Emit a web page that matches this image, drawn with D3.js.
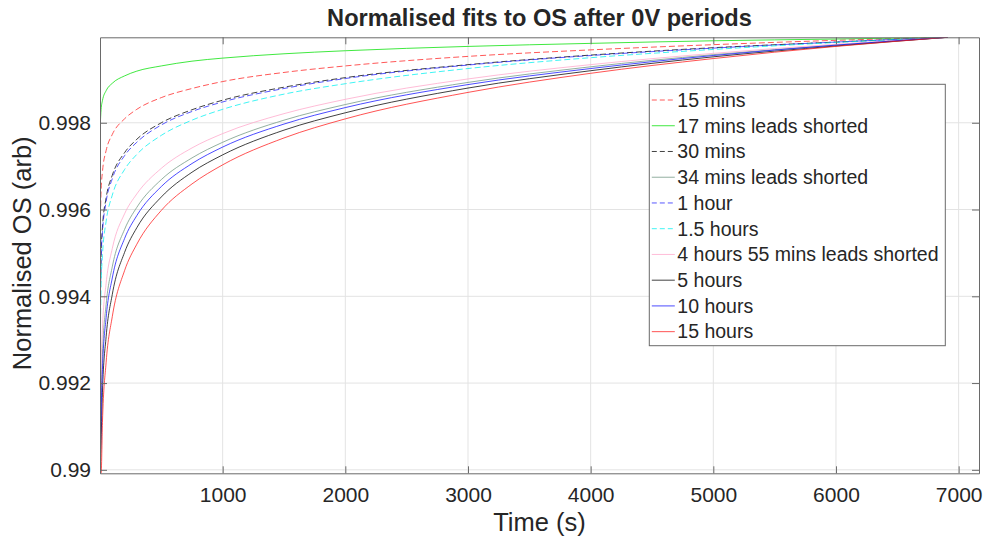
<!DOCTYPE html>
<html>
<head>
<meta charset="utf-8">
<script src="https://cdn.jsdelivr.net/npm/d3@7"></script>
<style>
body { margin: 0; background: #ffffff; }
text { font-family: "Liberation Sans", Arial, sans-serif; fill: #262626; }
</style>
</head>
<body>
<svg id="chart"></svg>
<script>
var canvas_width = 987;
var canvas_height = 542;
var left_edge = 100;
var right_edge = 979;
var top_edge = 37.3;
var bottom_edge = 473.3;

// time samples (s)
let time_s = [2, 9, 20, 50, 100, 200, 300, 500, 750, 1000, 1500, 2000, 3000, 4000, 5000, 6000, 6910];

let os_15_mins      = [0.99565, 0.99645, 0.99687, 0.99736, 0.99773, 0.99809, 0.99831, 0.99858, 0.99879, 0.99895, 0.99916, 0.99931, 0.99953, 0.99968, 0.99980, 0.99990, 0.99997];
let os_17_mins_sh   = [0.99793, 0.99831, 0.99851, 0.99874, 0.99891, 0.99908, 0.99919, 0.99931, 0.99942, 0.99949, 0.99959, 0.99966, 0.99976, 0.99983, 0.99989, 0.99993, 0.99997];
let os_30_mins      = [0.99386, 0.99499, 0.99559, 0.99627, 0.99679, 0.99731, 0.99762, 0.99800, 0.99830, 0.99852, 0.99882, 0.99904, 0.99934, 0.99956, 0.99973, 0.99986, 0.99997];
let os_34_mins_sh   = [0.98990, 0.99167, 0.99266, 0.99381, 0.99468, 0.99554, 0.99605, 0.99669, 0.99719, 0.99755, 0.99806, 0.99842, 0.99893, 0.99929, 0.99957, 0.99979, 0.99997];
let os_1_hour       = [0.99370, 0.99486, 0.99547, 0.99618, 0.99671, 0.99724, 0.99755, 0.99795, 0.99826, 0.99848, 0.99879, 0.99902, 0.99933, 0.99955, 0.99972, 0.99986, 0.99997];
let os_1_5_hours    = [0.99296, 0.99426, 0.99494, 0.99573, 0.99633, 0.99692, 0.99727, 0.99771, 0.99806, 0.99831, 0.99866, 0.99890, 0.99925, 0.99950, 0.99969, 0.99985, 0.99997];
let os_4h55_sh      = [0.99060, 0.99233, 0.99325, 0.99430, 0.99510, 0.99590, 0.99636, 0.99695, 0.99742, 0.99775, 0.99821, 0.99854, 0.99901, 0.99934, 0.99960, 0.99981, 0.99997];
let os_5_hours      = [0.98990, 0.99067, 0.99179, 0.99307, 0.99404, 0.99501, 0.99558, 0.99629, 0.99686, 0.99726, 0.99783, 0.99823, 0.99880, 0.99920, 0.99952, 0.99977, 0.99997];
let os_10_hours     = [0.98990, 0.99127, 0.99231, 0.99351, 0.99442, 0.99533, 0.99586, 0.99653, 0.99706, 0.99744, 0.99797, 0.99835, 0.99888, 0.99925, 0.99955, 0.99979, 0.99997];
let os_15_hours     = [0.98990, 0.98990, 0.99109, 0.99248, 0.99353, 0.99459, 0.99520, 0.99598, 0.99659, 0.99703, 0.99765, 0.99809, 0.99870, 0.99914, 0.99948, 0.99976, 0.99997];

let series_names = ["15 mins", "17 mins leads shorted", "30 mins", "34 mins leads shorted", "1 hour",
    "1.5 hours", "4 hours 55 mins leads shorted", "5 hours", "10 hours", "15 hours"];
let series_values = [os_15_mins, os_17_mins_sh, os_30_mins, os_34_mins_sh, os_1_hour,
    os_1_5_hours, os_4h55_sh, os_5_hours, os_10_hours, os_15_hours];
let colour = ["#ff2020", "#00e000", "#000000", "#6f9580", "#2020ff",
    "#00f0f0", "#ffa6c9", "#000000", "#1010ff", "#ff1a1a"];
let dashed = [true, false, true, false, true, true, false, false, false, false];

let x_ticks = [1000, 2000, 3000, 4000, 5000, 6000, 7000];
let x_tick_labels = ["1000", "2000", "3000", "4000", "5000", "6000", "7000"];
let y_ticks = [0.990, 0.992, 0.994, 0.996, 0.998];
let y_tick_labels = ["0.99", "0.992", "0.994", "0.996", "0.998"];
let x_domain = [0, 7166];
let y_domain = [0.98992, 0.99997];

let svg = d3.select("#chart");
svg.attr("width", canvas_width).attr("height", canvas_height);

let x = d3.scaleLinear().domain(x_domain).range([left_edge, right_edge]);
let y = d3.scaleLinear().domain(y_domain).range([bottom_edge, top_edge]);

svg.append("defs").append("clipPath")
    .attr("id", "plot-clip")
    .append("rect")
    .attr("x", left_edge)
    .attr("y", top_edge)
    .attr("width", right_edge - left_edge)
    .attr("height", bottom_edge - top_edge);

draw_grid();
draw_curves();
draw_axes();
draw_legend();

function draw_grid(){
    svg.selectAll(".x-grid")
        .data(x_ticks)
        .join("line")
        .attr("class", "x-grid")
        .attr("x1", d => x(d))
        .attr("x2", d => x(d))
        .attr("y1", top_edge)
        .attr("y2", bottom_edge)
        .attr("stroke", "#e3e3e3");

    svg.selectAll(".y-grid")
        .data(y_ticks)
        .join("line")
        .attr("class", "y-grid")
        .attr("x1", left_edge)
        .attr("x2", right_edge)
        .attr("y1", d => y(d))
        .attr("y2", d => y(d))
        .attr("stroke", "#e3e3e3");
}

function draw_curves(){
    let line = d3.line()
        .x(d => x(d[0]))
        .y(d => y(d[1]))
        .curve(d3.curveMonotoneX);

    svg.append("g")
        .attr("clip-path", "url(#plot-clip)")
        .selectAll("path")
        .data(series_values)
        .join("path")
        .attr("d", d => line(d.map((v, i) => [time_s[i], v])))
        .attr("fill", "none")
        .attr("stroke", (d, i) => colour[i])
        .attr("stroke-width", 1)
        .attr("stroke-opacity", 0.75)
        .attr("stroke-dasharray", (d, i) => dashed[i] ? "6,3" : null);
}

function draw_axes(){
    let tick_len = 7;
    let axis_colour = "#6a6a6a";

    let bottom = svg.append("g")
        .attr("transform", "translate(0," + bottom_edge + ")")
        .call(d3.axisBottom(x).tickValues(x_ticks).tickSizeInner(-tick_len).tickSizeOuter(0).tickPadding(14)
            .tickFormat((d, i) => x_tick_labels[i]));
    let top = svg.append("g")
        .attr("transform", "translate(0," + top_edge + ")")
        .call(d3.axisTop(x).tickValues(x_ticks).tickSizeInner(-tick_len).tickSizeOuter(0).tickFormat(""));
    let left = svg.append("g")
        .attr("transform", "translate(" + left_edge + ",0)")
        .call(d3.axisLeft(y).tickValues(y_ticks).tickSizeInner(-tick_len).tickSizeOuter(0).tickPadding(9)
            .tickFormat((d, i) => y_tick_labels[i]));
    let right = svg.append("g")
        .attr("transform", "translate(" + right_edge + ",0)")
        .call(d3.axisRight(y).tickValues(y_ticks).tickSizeInner(-tick_len).tickSizeOuter(0).tickFormat(""));

    [bottom, top, left, right].forEach(g => {
        g.attr("font-family", null);
        g.select(".domain").attr("stroke", axis_colour);
        g.selectAll(".tick line").attr("stroke", axis_colour);
        g.selectAll(".tick text")
            .style("font-family", "'Liberation Sans', Arial, sans-serif")
            .style("font-size", "21px")
            .attr("fill", "#262626");
    });

    svg.append("text")
        .attr("x", (left_edge + right_edge) / 2)
        .attr("y", 26)
        .attr("text-anchor", "middle")
        .style("font-size", "23.6px")
        .style("font-weight", "bold")
        .attr("fill", "#000000")
        .text("Normalised fits to OS after 0V periods");

    svg.append("text")
        .attr("x", (left_edge + right_edge) / 2)
        .attr("y", 531)
        .attr("text-anchor", "middle")
        .style("font-size", "25.5px")
        .text("Time (s)");

    svg.append("text")
        .attr("transform", "translate(31," + ((top_edge + bottom_edge) / 2 - 2) + ") rotate(-90)")
        .attr("text-anchor", "middle")
        .style("font-size", "25.5px")
        .text("Normalised OS (arb)");
}

function draw_legend(){
    let box_x = 649.3, box_y = 84.3, box_w = 296, box_h = 261.4;
    let row_h = 25.74;

    let legend = svg.append("g").attr("class", "legend");
    legend.append("rect")
        .attr("x", box_x)
        .attr("y", box_y)
        .attr("width", box_w)
        .attr("height", box_h)
        .attr("fill", "#ffffff")
        .attr("stroke", "#6a6a6a");

    let rows = legend.selectAll(".legend-row")
        .data(series_names)
        .join("g")
        .attr("class", "legend-row")
        .attr("transform", (d, i) => "translate(0," + (box_y + 15.7 + i * row_h) + ")");

    rows.append("line")
        .attr("x1", box_x + 2.5)
        .attr("x2", box_x + 25.5)
        .attr("y1", 0)
        .attr("y2", 0)
        .attr("stroke", (d, i) => colour[i])
        .attr("stroke-width", 1)
        .attr("stroke-opacity", 0.75)
        .attr("stroke-dasharray", (d, i) => dashed[i] ? "5,3" : null);

    rows.append("text")
        .attr("x", box_x + 28)
        .attr("y", 0)
        .attr("dy", "0.35em")
        .style("font-size", "19.5px")
        .attr("fill", "#000000")
        .text(d => d);
}
</script>
</body>
</html>
